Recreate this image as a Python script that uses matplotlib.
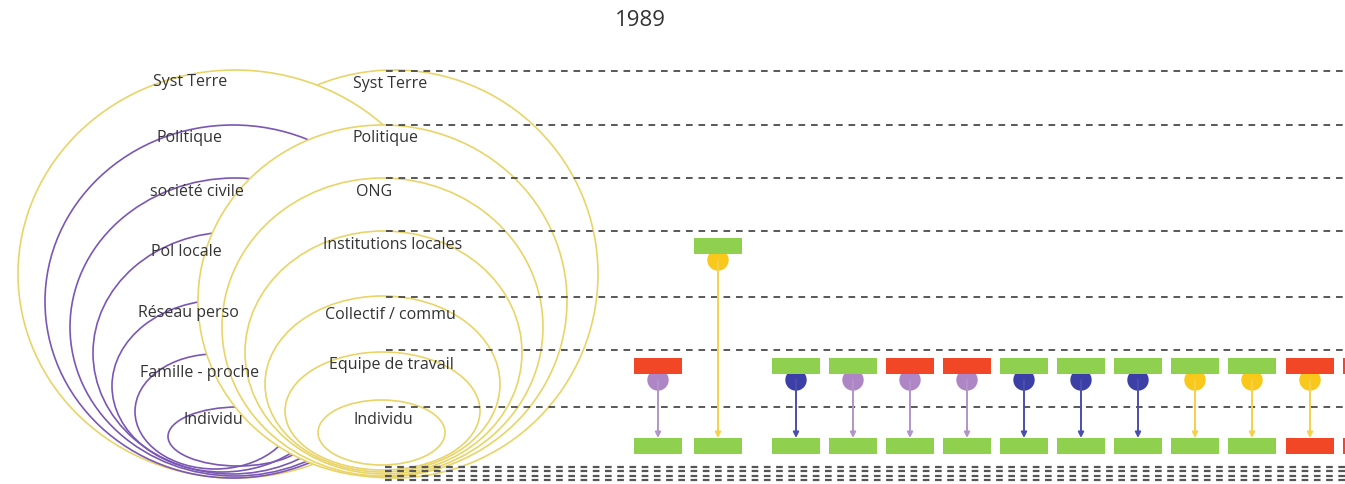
import matplotlib.pyplot as plt
from matplotlib.patches import Ellipse, Circle, Rectangle

plt.rcParams['font.family'] = ['Open Sans', 'DejaVu Sans']

# --- data ---
year = '1989'
left_labels = ['Syst Terre', 'Politique', 'société civile', 'Pol locale',
               'Réseau perso', 'Famille - proche', 'Individu']
right_labels = ['Syst Terre', 'Politique', 'ONG', 'Institutions locales',
                'Collectif / commu', 'Equipe de travail', 'Individu']

# one column per link: level of the top box (index in right_labels), bottom box level
top_level = [5, 3, 5, 5, 5, 5, 5, 5, 5, 5, 5, 5, 5]
bottom_level = [6, 6, 6, 6, 6, 6, 6, 6, 6, 6, 6, 6, 6]
top_kind = ['r', 'g', 'g', 'g', 'r', 'r', 'g', 'g', 'g', 'g', 'g', 'r', 'r']
link_kind = ['lilac', 'yellow', 'blue', 'lilac', 'lilac', 'lilac',
             'blue', 'blue', 'blue', 'yellow', 'yellow', 'yellow', 'yellow']
bottom_kind = ['g', 'g', 'g', 'g', 'g', 'g', 'g', 'g', 'g', 'g', 'g', 'r', 'r']

# --- layout (pixels) ---
W, H = 1345, 484
col_x = [658, 718, 796, 853, 910, 967, 1024, 1081, 1138, 1195, 1252, 1310, 1367]
level_line_y = [71, 125, 178, 231, 297, 350, 407]
box_y = [86, 140, 193, 246, 312, 366, 446]
box_w, box_h = 48, 16

# ellipses as (left, right, top, bottom)
left_big = (18, 452, 70, 478)
left_purple = [(45, 421, 125, 478), (70, 400, 178, 476), (93, 371, 232, 474),
               (112, 332, 300, 472), (135, 295, 354, 469), (168, 308, 407, 466)]
right_ell = [(190, 598, 70, 478), (198, 567, 125, 477), (222, 543, 178, 476),
             (245, 522, 231, 474), (265, 500, 296, 472), (285, 480, 352, 470),
             (318, 445, 400, 465)]
left_lab_xy = [(190, 82), (190, 138), (197, 192), (186, 252), (188, 313), (200, 373), (213, 420)]
right_lab_xy = [(390, 84), (385, 138), (374, 192), (393, 245), (390, 315), (391, 365), (383, 420)]

box_col = {'g': '#8fd14f', 'r': '#f24726'}
dot_col = {'lilac': '#ae86c6', 'blue': '#3b3fa6', 'yellow': '#f8c81a'}
arr_col = {'lilac': '#b195c9', 'blue': '#4a4fae', 'yellow': '#f5d04a'}
yel = '#e9d467'
pur = '#7a57b4'
txt = '#333333'

fig = plt.figure(figsize=(W / 100, H / 100), dpi=100)
ax = fig.add_axes([0, 0, 1, 1])
ax.set_xlim(0, W)
ax.set_ylim(H, 0)
ax.axis('off')


def ell(b, **kw):
    l, r, t, bt = b
    return Ellipse(((l + r) / 2, (t + bt) / 2), r - l, bt - t, **kw)


# nested ellipses
ax.add_patch(ell(right_ell[0], fill=False, ec=yel, lw=1.2, zorder=2))
ax.add_patch(ell(left_big, fc='white', ec=yel, lw=1.2, zorder=3))
for b in left_purple:
    ax.add_patch(ell(b, fc='none', ec=pur, lw=1.2, zorder=4))
for i, b in enumerate(right_ell[1:]):
    ax.add_patch(ell(b, fc='white', ec=yel, lw=1.2, zorder=5 + i * 0.1))

for s, (x, y) in zip(left_labels, left_lab_xy):
    ax.text(x, y, s, ha='center', va='center', fontsize=11.5, color=txt, zorder=8)
for s, (x, y) in zip(right_labels, right_lab_xy):
    ax.text(x, y, s, ha='center', va='center', fontsize=11.5, color=txt, zorder=8)

# dashed level lines
for y in level_line_y:
    ax.plot([386, W], [y, y], ls=(0, (4, 3.5)), color='#3c3c3c', lw=1.2, zorder=9)
for y in [467, 471, 476, 480]:
    ax.plot([385, W], [y, y], ls=(0, (3, 2.5)), color='#555555', lw=1.6, zorder=9)

# links
for x, tl, bl, tk, lk, bk in zip(col_x, top_level, bottom_level, top_kind, link_kind, bottom_kind):
    ty = box_y[tl]
    by = box_y[bl]
    dy = ty + box_h / 2 + 6
    ax.add_patch(Circle((x, dy), 10, color=dot_col[lk], zorder=10))
    ax.add_patch(Rectangle((x - box_w / 2, ty - box_h / 2), box_w, box_h,
                           fc=box_col[tk], ec='none', zorder=11))
    ax.add_patch(Rectangle((x - box_w / 2, by - box_h / 2), box_w, box_h,
                           fc=box_col[bk], ec='none', zorder=11))
    ax.annotate('', xy=(x, by - box_h / 2), xytext=(x, dy),
                arrowprops=dict(arrowstyle='-|>', color=arr_col[lk], lw=1.4,
                                mutation_scale=8, shrinkA=0, shrinkB=0), zorder=10)

ax.text(640, 21, year, ha='center', va='center', fontsize=16, color='#333333')

fig.savefig('out.png', dpi=100)
